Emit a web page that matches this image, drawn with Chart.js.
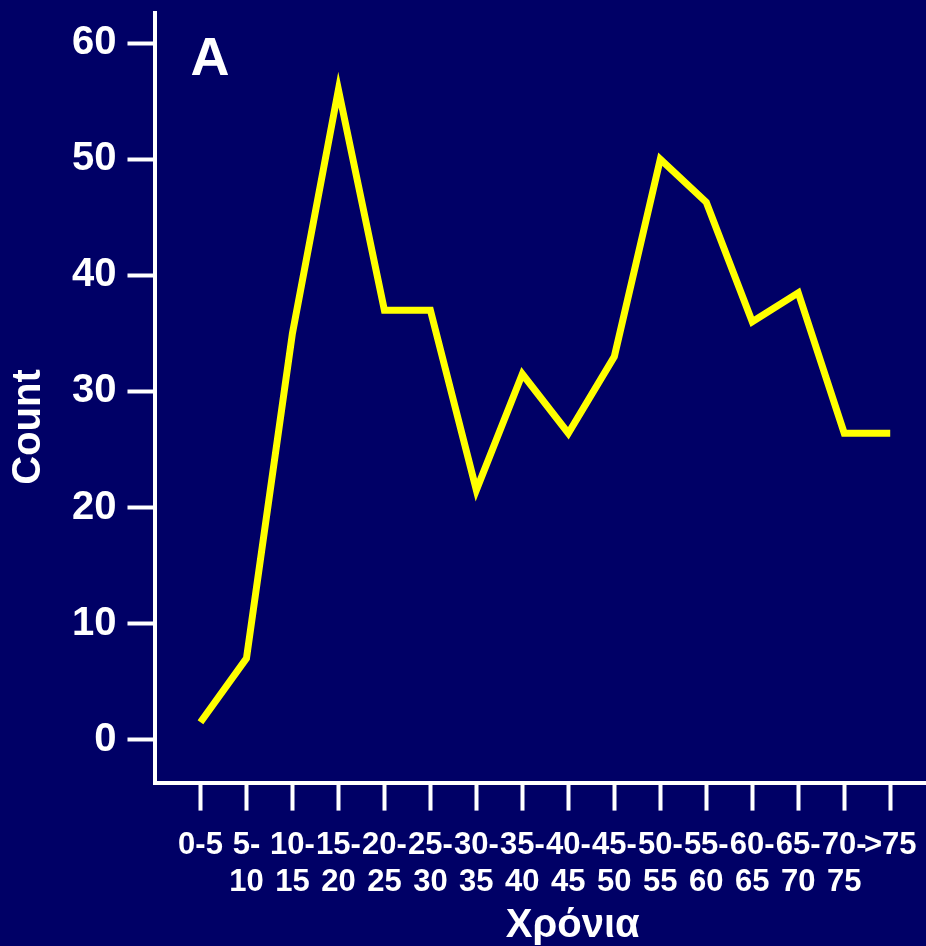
<!DOCTYPE html>
<html>
<head>
<meta charset="utf-8">
<script src="https://cdn.jsdelivr.net/npm/chart.js@4.4.0/dist/chart.umd.min.js"></script>
<style>
  html, body { margin: 0; padding: 0; background: #000066; overflow: hidden; }
  #wrap { position: absolute; left: 0; top: 0; width: 990px; height: 946px; }
</style>
</head>
<body>
<div id="wrap"><canvas id="chartA" width="990" height="946"></canvas></div>
<script>
// Datos
const ageGroups = ['0-5', '5-10', '10-15', '15-20', '20-25', '25-30', '30-35', '35-40',
                   '40-45', '45-50', '50-55', '55-60', '60-65', '65-70', '70-75', '>75'];
const tickLabels = [['0-5'], ['5-', '10'], ['10-', '15'], ['15-', '20'], ['20-', '25'],
                    ['25-', '30'], ['30-', '35'], ['35-', '40'], ['40-', '45'], ['45-', '50'],
                    ['50-', '55'], ['55-', '60'], ['60-', '65'], ['65-', '70'], ['70-', '75'], ['>75']];
const counts = [1.5, 7, 35, 56, 37, 37, 21.5, 31.5, 26.4, 33, 50, 46.3, 36, 38.5, 26.4, 26.4];
const yTicks = [0, 10, 20, 30, 40, 50, 60];

const FONT = '"Liberation Sans", Arial, sans-serif';

// Letra del panel y título del eje Y
const extraText = {
    id: 'extraText',
    afterDraw(chart) {
        const { ctx, chartArea } = chart;
        ctx.save();
        ctx.fillStyle = '#ffffff';
        ctx.font = 'bold 54px ' + FONT;
        ctx.textBaseline = 'alphabetic';
        ctx.fillText('A', chartArea.left + 35, chartArea.top + 62);

        ctx.font = 'bold 40px ' + FONT;
        ctx.textAlign = 'center';
        ctx.textBaseline = 'middle';
        ctx.translate(29, chartArea.top + 414);
        ctx.rotate(-Math.PI / 2);
        ctx.fillText('Count', 0, 0);
        ctx.restore();
    }
};

const ctx = document.getElementById('chartA').getContext('2d');
new Chart(ctx, {
    type: 'line',
    data: {
        datasets: [{
            data: counts.map((v, i) => ({ x: i, y: v })),
            borderColor: '#ffff00',
            borderWidth: 7,
            borderJoinStyle: 'miter',
            borderCapStyle: 'butt',
            pointRadius: 0,
            tension: 0,
            fill: false
        }]
    },
    options: {
        responsive: false,
        animation: false,
        layout: { padding: { top: 2, left: 61, right: 0, bottom: 0 } },
        plugins: { legend: { display: false }, tooltip: { enabled: false } },
        scales: {
            x: {
                type: 'linear',
                min: -0.978,
                max: 17.17,
                afterBuildTicks: (scale) => { scale.ticks = ageGroups.map((_, i) => ({ value: i })); },
                ticks: {
                    color: '#ffffff',
                    font: { family: FONT, size: 31, weight: 'bold', lineHeight: 1.2 },
                    autoSkip: false,
                    maxRotation: 0,
                    minRotation: 0,
                    padding: 16,
                    callback: (value) => tickLabels[value]
                },
                grid: { drawOnChartArea: false, drawTicks: true, tickLength: 28, tickWidth: 4, tickColor: '#ffffff' },
                border: { display: true, color: '#ffffff', width: 4 },
                title: {
                    display: true,
                    text: 'Χρόνια',
                    color: '#ffffff',
                    font: { family: FONT, size: 40, weight: 'bold', lineHeight: 1.0 },
                    padding: { top: -11, bottom: 0 }
                }
            },
            y: {
                min: -3.7,
                max: 62.6,
                afterBuildTicks: (scale) => { scale.ticks = yTicks.map(v => ({ value: v })); },
                ticks: {
                    color: '#ffffff',
                    font: { family: FONT, size: 40, weight: 'bold', lineHeight: 0.1 },
                    padding: 11
                },
                grid: { drawOnChartArea: false, drawTicks: true, tickLength: 28, tickWidth: 4, tickColor: '#ffffff' },
                border: { display: true, color: '#ffffff', width: 4 }
            }
        }
    },
    plugins: [extraText]
});
</script>
</body>
</html>
